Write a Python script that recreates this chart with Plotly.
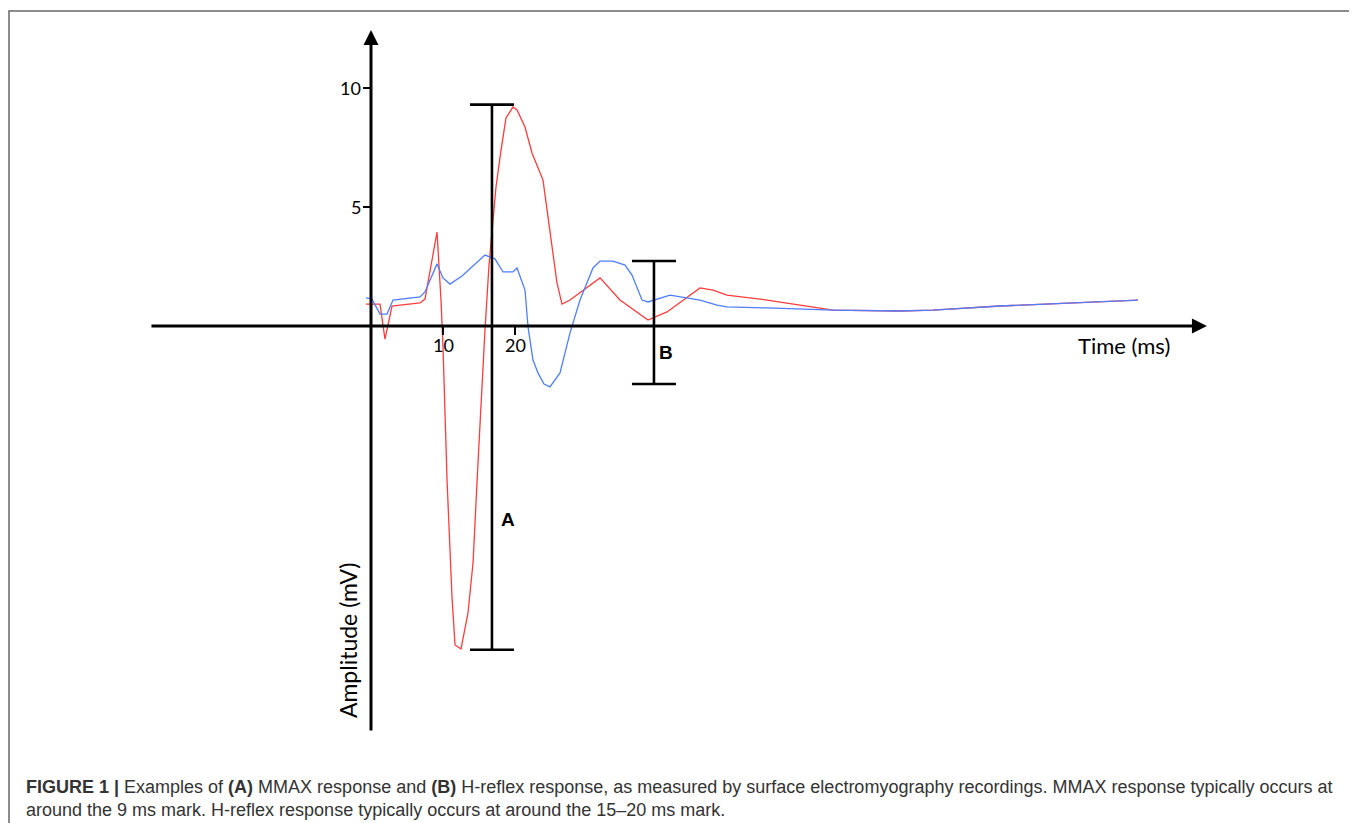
import plotly.graph_objects as go

# ---- data (time in ms, amplitude in mV) ----
red_time = [-0.69, 1.25, 1.94, 2.92, 4.03, 6.81, 7.5, 9.17, 9.72, 10.0, 10.56, 11.25, 11.67, 12.5,
            13.47, 14.17, 14.86, 15.42, 15.83, 16.39, 16.94, 17.36, 18.06, 18.75, 19.72, 20.28,
            21.39, 22.36, 23.89, 25.83, 26.53, 27.64, 31.81, 34.58, 38.47, 41.11, 45.69, 47.5,
            49.44, 55.0, 64.17, 73.47, 78.06, 87.36, 106.53]
red_amp = [0.92, 0.92, -0.55, 0.84, 0.88, 0.97, 1.13, 3.95, 1.09, -0.88, -6.47, -11.39, -13.40, -13.57,
           -12.06, -9.96, -5.76, -2.27, -0.17, 2.56, 4.33, 5.84, 7.39, 8.74, 9.20, 9.08,
           8.36, 7.27, 6.13, 1.81, 0.92, 1.09, 2.02, 1.09, 0.25, 0.59, 1.60, 1.51,
           1.30, 1.09, 0.67, 0.63, 0.67, 0.84, 1.09]

blue_time = [-0.69, 0.14, 1.25, 2.22, 3.06, 6.81, 7.5, 9.17, 10.0, 10.97, 12.64, 14.44, 15.83, 17.22,
             18.33, 19.72, 20.28, 21.39, 21.81, 22.5, 23.19, 24.03, 24.86, 26.25, 27.64, 29.03,
             30.83, 31.81, 33.61, 35.28, 36.25, 37.64, 38.47, 41.53, 43.33, 45.69, 48.06, 49.44,
             55.0, 64.17, 73.47, 78.06, 87.36, 106.53]
blue_amp = [1.18, 1.13, 0.50, 0.50, 1.09, 1.22, 1.43, 2.61, 2.02, 1.76, 2.10, 2.61, 2.98, 2.82,
            2.27, 2.27, 2.44, 1.51, -0.04, -1.43, -1.97, -2.44, -2.56, -1.97, -0.29, 1.09,
            2.44, 2.73, 2.73, 2.56, 2.14, 1.09, 1.01, 1.30, 1.22, 1.09, 0.88, 0.80,
            0.76, 0.67, 0.63, 0.67, 0.84, 1.09]

y_ticks = [5, 10]
x_ticks = [10, 20]
x_axis_span = [-30.7, 116.1]
y_axis_span = [-17.06, 12.44]
bracket_A = dict(time=16.8, top=9.3, bottom=-13.6, label="A")
bracket_B = dict(time=39.3, top=2.73, bottom=-2.44, label="B")

caption_1 = ("<b>FIGURE 1 |</b> Examples of <b>(A)</b> MMAX response and <b>(B)</b> H-reflex response, "
             "as measured by surface electromyography recordings. MMAX response typically occurs at")
caption_2 = "around the 9 ms mark. H-reflex response typically occurs at around the 15–20 ms mark."

# ---- figure geometry (page body adds an 8px margin) ----
OFF = 8
W, H = 1357 - OFF, 823 - OFF
PX_PER_MS = 7.2
PX_PER_MV = 23.8
X0_PX, Y0_PX = 371 - OFF, 326 - OFF
x_range = [(0 - X0_PX) / PX_PER_MS, (W - X0_PX) / PX_PER_MS]
y_range = [(Y0_PX - H) / PX_PER_MV, (Y0_PX - 0) / PX_PER_MV]


def px(xr):
    return (xr - OFF) / W


def py(yr):
    return 1 - (yr - OFF) / H


fig = go.Figure()
fig.add_trace(go.Scatter(x=red_time, y=red_amp, mode="lines",
                         line=dict(color="#ff3b3b", width=1.3), hoverinfo="skip"))
fig.add_trace(go.Scatter(x=blue_time, y=blue_amp, mode="lines",
                         line=dict(color="#4f7dff", width=1.3), hoverinfo="skip"))

# brackets
cap_half = 22 / PX_PER_MS
for b in (bracket_A, bracket_B):
    fig.add_trace(go.Scatter(
        x=[b["time"] - cap_half, b["time"] + cap_half, None, b["time"], b["time"], None,
           b["time"] - cap_half, b["time"] + cap_half],
        y=[b["top"], b["top"], None, b["top"], b["bottom"], None, b["bottom"], b["bottom"]],
        mode="lines", line=dict(color="black", width=2.6), hoverinfo="skip"))

# tick marks
tick_x, tick_y = [], []
for v in y_ticks:
    tick_x += [-8 / PX_PER_MS, 0, None]
    tick_y += [v, v, None]
for v in x_ticks:
    tick_x += [v, v, None]
    tick_y += [0, -9 / PX_PER_MV, None]
fig.add_trace(go.Scatter(x=tick_x, y=tick_y, mode="lines",
                         line=dict(color="black", width=2), hoverinfo="skip"))

ann = []
# axis arrows
ann.append(dict(x=0, y=y_axis_span[1], ax=0, ay=y_axis_span[0], xref="x", yref="y",
                axref="x", ayref="y", showarrow=True, arrowhead=2, arrowsize=1.0,
                arrowwidth=3, arrowcolor="black", text=""))
ann.append(dict(x=x_axis_span[1], y=0, ax=x_axis_span[0], ay=0, xref="x", yref="y",
                axref="x", ayref="y", showarrow=True, arrowhead=2, arrowsize=1.0,
                arrowwidth=3, arrowcolor="black", text=""))

lab_font = dict(family="Lato, Carlito, sans-serif", size=18, color="black")
for v in y_ticks:
    ann.append(dict(x=-1.15, y=v, xref="x", yref="y", text=str(v), showarrow=False,
                    xanchor="right", yanchor="middle", font=lab_font))
for v in x_ticks:
    ann.append(dict(x=v, y=-0.8, xref="x", yref="y", text=str(v), showarrow=False,
                    xanchor="center", yanchor="middle", font=lab_font))
ann.append(dict(x=104.6, y=-0.84, xref="x", yref="y", text="Time (ms)", showarrow=False,
                xanchor="center", yanchor="middle",
                font=dict(family="Lato, Carlito, sans-serif", size=22, color="black")))
ann.append(dict(x=-3.2, y=-13.2, xref="x", yref="y", text="Amplitude (mV)", showarrow=False,
                textangle=-90, xanchor="center", yanchor="middle",
                font=dict(family="Lato, Carlito, sans-serif", size=23, color="black")))
for b, (dx, dy) in ((bracket_A, (19.0, -8.15)), (bracket_B, (41.0, -1.13))):
    ann.append(dict(x=dx, y=dy, xref="x", yref="y", text="<b>%s</b>" % b["label"],
                    showarrow=False, xanchor="center", yanchor="middle",
                    font=dict(family="Liberation Sans, Arial, sans-serif", size=19, color="black")))

cap_font = dict(family="Liberation Sans, Arial, sans-serif", size=18, color="#333333")
ann.append(dict(x=px(24), y=py(787), xref="paper", yref="paper", text=caption_1,
                showarrow=False, xanchor="left", yanchor="middle", font=cap_font))
ann.append(dict(x=px(24), y=py(810), xref="paper", yref="paper", text=caption_2,
                showarrow=False, xanchor="left", yanchor="middle", font=cap_font))

fig.update_layout(
    width=W, height=H, margin=dict(l=0, r=0, t=0, b=0),
    paper_bgcolor="white", plot_bgcolor="white", showlegend=False,
    xaxis=dict(range=x_range, visible=False, fixedrange=True),
    yaxis=dict(range=y_range, visible=False, fixedrange=True),
    annotations=ann,
    shapes=[dict(type="path", xref="paper", yref="paper",
                 path="M %f,%f L %f,%f L %f,%f L %f,%f" % (px(9), -0.05, px(9), py(11),
                                                          px(1355), py(11), px(1355), -0.05),
                 line=dict(color="#666666", width=1.5))],
)

fig.write_html("out.html")
